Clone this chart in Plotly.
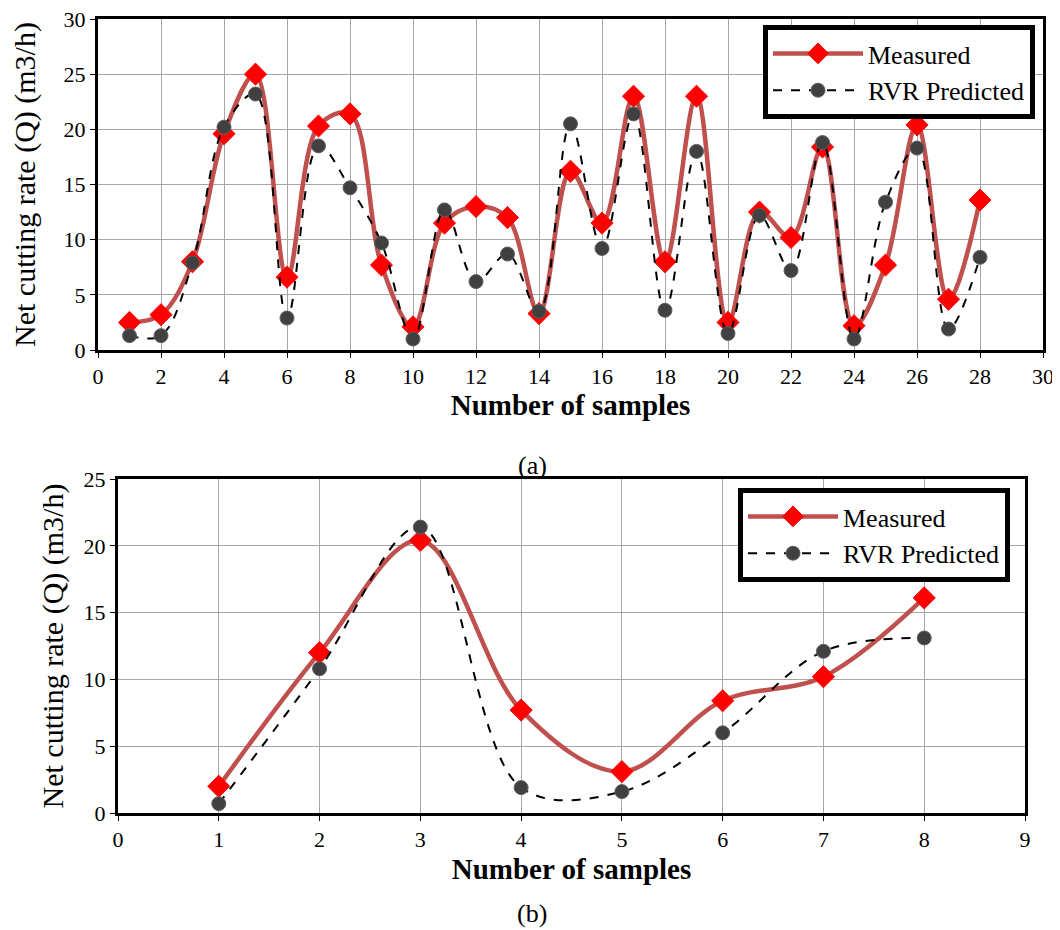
import plotly.graph_objects as go

samples_a = list(range(1, 29))
measured_a = [2.5, 3.2, 8.0, 19.6, 25.0, 6.6, 20.3, 21.4, 7.7, 2.1, 11.5, 13.0, 12.0, 3.3,
              16.2, 11.5, 23.0, 8.0, 23.0, 2.5, 12.5, 10.2, 18.4, 2.2, 7.7, 20.4, 4.6, 13.6]
predicted_a = [1.3, 1.3, 7.9, 20.2, 23.2, 2.9, 18.5, 14.7, 9.7, 1.0, 12.7, 6.2, 8.7, 3.5,
               20.5, 9.2, 21.4, 3.6, 18.0, 1.5, 12.2, 7.2, 18.8, 1.0, 13.4, 18.3, 1.9, 8.4]

samples_b = list(range(1, 9))
measured_b = [2.0, 12.0, 20.4, 7.7, 3.1, 8.4, 10.2, 16.1]
predicted_b = [0.7, 10.8, 21.4, 1.9, 1.6, 6.0, 12.1, 13.1]

FONT = "Liberation Serif, Times New Roman, serif"
RED_LINE = "#C0504D"

W, H, OFF = 1060, 930, 8  # page body margin offset


def fx(px):
    return (px - OFF) / W


def fy(py):
    return 1 - (py - OFF) / H


fig = go.Figure()


def add_pair(x, m, p, xa, ya, legend):
    fig.add_trace(go.Scatter(
        x=x, y=m, name="Measured", mode="lines+markers",
        line=dict(color=RED_LINE, width=4.5, shape="spline", smoothing=1.0),
        marker=dict(symbol="diamond", size=17, color="#FF0000",
                    line=dict(color="#FF0000", width=1)),
        xaxis=xa, yaxis=ya, legend=legend))
    fig.add_trace(go.Scatter(
        x=x, y=p, name="RVR Predicted", mode="lines+markers",
        line=dict(color="black", width=2, dash="dash", shape="spline", smoothing=1.0),
        marker=dict(symbol="circle", size=14, color="#404040",
                    line=dict(color="#606060", width=1)),
        xaxis=xa, yaxis=ya, legend=legend))


add_pair(samples_a, measured_a, predicted_a, "x", "y", "legend")
add_pair(samples_b, measured_b, predicted_b, "x2", "y2", "legend2")

axis_common = dict(
    showgrid=True, gridcolor="#A6A6A6", gridwidth=1,
    showline=True, linecolor="black", linewidth=3, mirror=True,
    ticks="outside", ticklen=5, tickcolor="black", tickwidth=1,
    tickfont=dict(family=FONT, size=22, color="black"),
    zeroline=False, automargin=False, ticklabeloverflow="allow",
)


def xtitle(standoff):
    return dict(text="<b>Number of samples</b>", font=dict(family=FONT, size=29, color="black"),
                standoff=standoff)


def ytitle(standoff):
    return dict(text="Net cutting rate (Q) (m3/h)", font=dict(family=FONT, size=30, color="black"),
                standoff=standoff)


fig.update_layout(
    width=W, height=H,
    margin=dict(l=0, r=0, t=0, b=0),
    paper_bgcolor="white", plot_bgcolor="white",
    font=dict(family=FONT, color="black"),
    xaxis=dict(domain=[fx(98), fx(1043)], range=[0, 30], dtick=2, anchor="y",
               title=xtitle(7), **axis_common),
    yaxis=dict(domain=[fy(350), fy(19)], range=[0, 30], dtick=5, anchor="x",
               title=ytitle(30), **axis_common),
    xaxis2=dict(domain=[fx(118), fx(1025)], range=[0, 9], dtick=1, anchor="y2",
                title=xtitle(8), **axis_common),
    yaxis2=dict(domain=[fy(813), fy(479)], range=[0, 25], dtick=5, anchor="x2",
                title=ytitle(12), **axis_common),
    legend=dict(x=fx(1035), y=fy(25), xanchor="right", yanchor="top",
                bgcolor="white", bordercolor="black", borderwidth=5,
                font=dict(family=FONT, size=26, color="black"),
                tracegroupgap=0, itemwidth=90),
    legend2=dict(x=fx(1010), y=fy(488), xanchor="right", yanchor="top",
                 bgcolor="white", bordercolor="black", borderwidth=5,
                 font=dict(family=FONT, size=26, color="black"),
                 tracegroupgap=0, itemwidth=90),
    annotations=[
        dict(text="(a)", x=fx(532), y=fy(466), xref="paper", yref="paper",
             xanchor="center", yanchor="middle",
             showarrow=False, font=dict(family=FONT, size=26, color="black")),
        dict(text="(b)", x=fx(532), y=fy(913), xref="paper", yref="paper",
             xanchor="center", yanchor="middle",
             showarrow=False, font=dict(family=FONT, size=26, color="black")),
    ],
)

fig.write_html("out.html")
